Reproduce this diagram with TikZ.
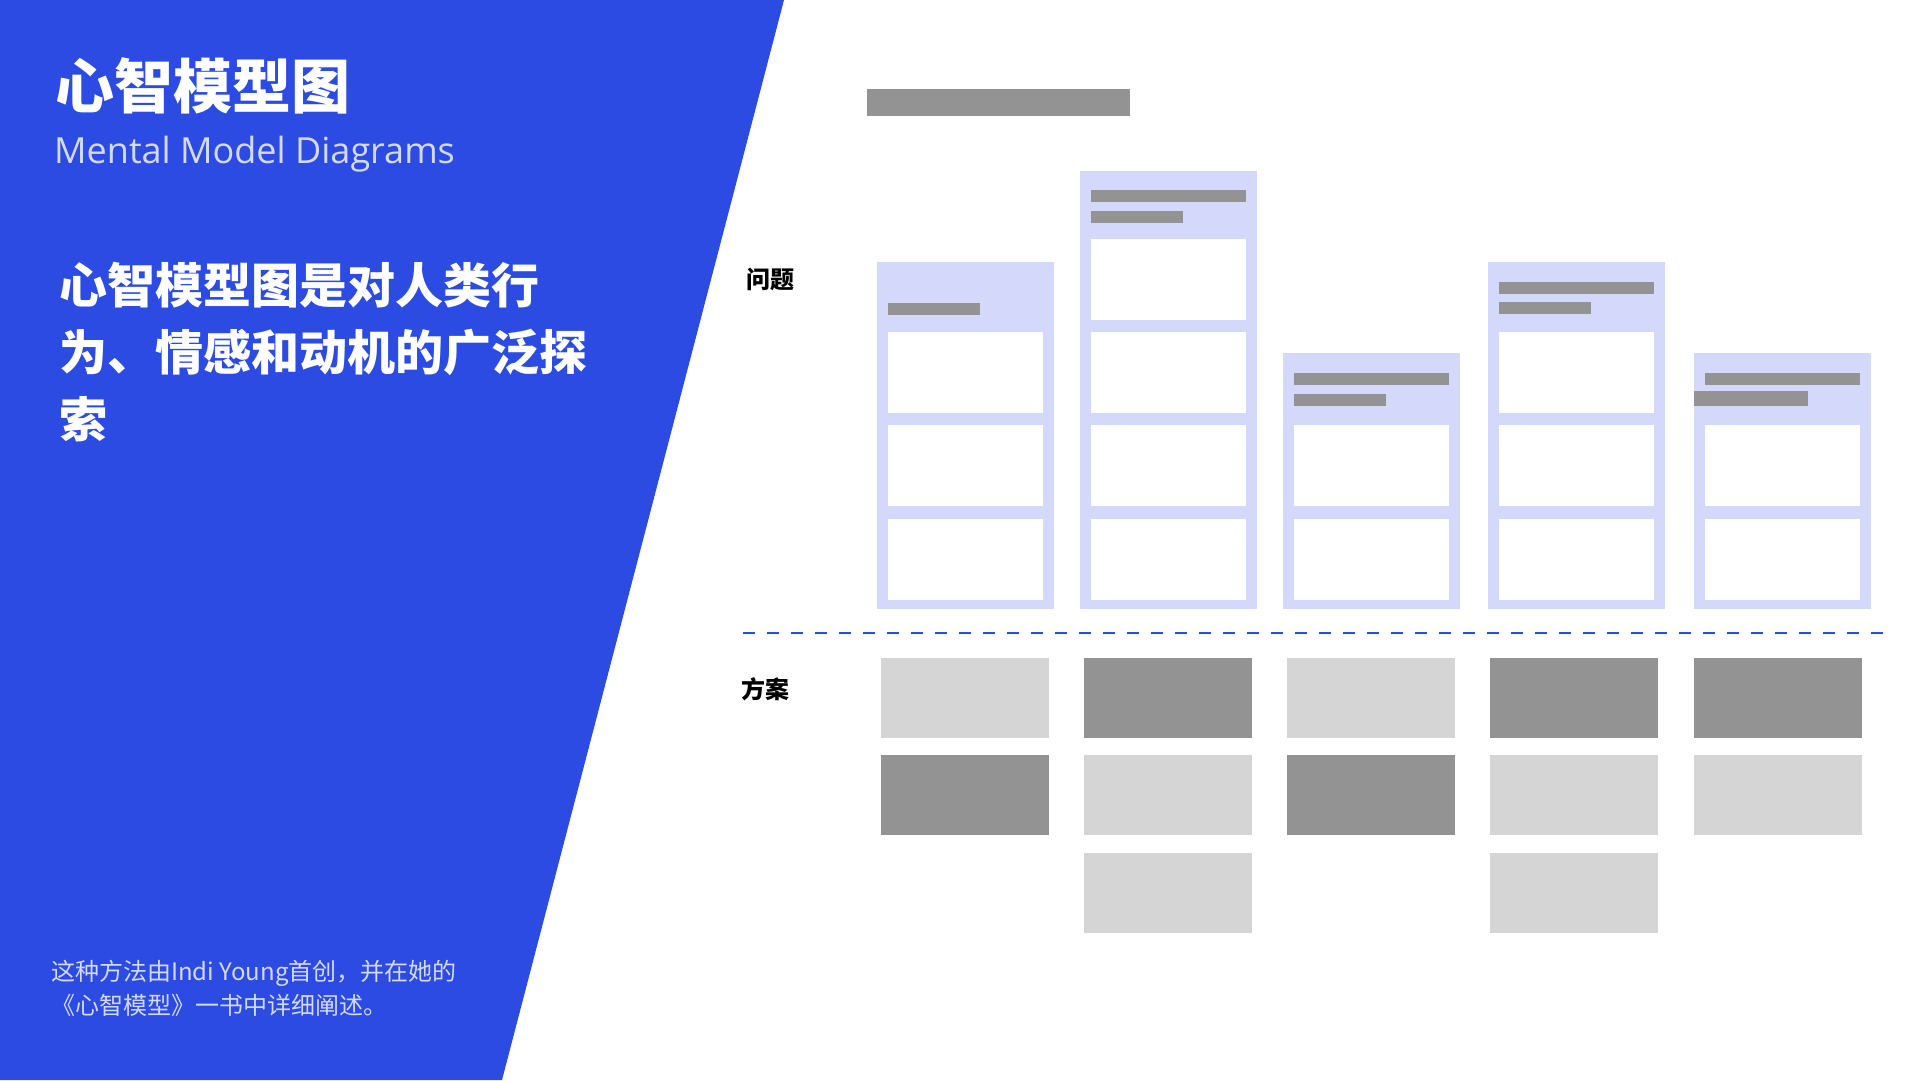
\documentclass[tikz,border=0pt]{standalone}
\usepackage{fontspec}
\setmainfont{Noto Sans CJK SC}
\newfontfamily\latinfont{Open Sans}
\usepackage{tikz}
\usetikzlibrary{positioning}
\definecolor{mmblue}{HTML}{2B4BE3}
\definecolor{mmpale}{HTML}{D4D9FF}
\definecolor{mmlav}{HTML}{D4D9FB}
\definecolor{mmdark}{HTML}{939393}
\definecolor{mmlight}{HTML}{D6D5D6}

\begin{document}
\begin{tikzpicture}[x=1pt, y=-1pt,
  colbox/.style={fill=mmlav, minimum width=177pt, anchor=north west, inner sep=0pt},
  cell/.style={fill=white, minimum width=155pt, minimum height=81pt, anchor=north west, inner sep=0pt},
  bar/.style={fill=mmdark, minimum height=12pt, anchor=north west, inner sep=0pt},
  sol/.style={minimum width=168pt, minimum height=80pt, anchor=north west, inner sep=0pt},
  soldark/.style={sol, fill=mmdark},
  sollight/.style={sol, fill=mmlight},
]
\useasboundingbox (0,0) rectangle (1920,1080);
\fill[white] (0,0) rectangle (1920,1080);
\fill[mmblue] (0,0) -- (784,0) -- (502,1080) -- (0,1080) -- cycle;

% left panel
\node[anchor=west, inner sep=0pt, text=white, font=\bfseries\fontsize{59}{70}\selectfont] (title) at (55,86) {心智模型图};
\node[anchor=base west, inner sep=0pt, text=mmpale, font=\latinfont\fontsize{36}{44}\selectfont] (subtitle) at (54,163) {Mental Model Diagrams};
\node[anchor=north west, inner sep=0pt, align=left, text=white, font=\bfseries\fontsize{48}{67}\selectfont] (summary) at (59,262) {
  心智模型图是对人类行\\
  为、情感和动机的广泛探\\
  索
};
\node[anchor=north west, inner sep=0pt, align=left, text=mmpale, font=\fontsize{24}{34}\selectfont] (credit) at (51,960) {
  这种方法由Indi Young首创，并在她的\\
  《心智模型》一书中详细阐述。
};

% problem space
\node[anchor=west, inner sep=0pt, font=\bfseries\fontsize{24}{28}\selectfont] (problems) at (746,279) {问题};
\node[anchor=north west, inner sep=0pt, fill=mmdark, minimum width=263pt, minimum height=27pt] (heading) at (867,89) {};

\node[colbox, minimum height=347pt] (towerA) at (877,262) {};
\node[bar, minimum width=92pt] (towerAbar) at (888,303) {};
\node[cell] (towerAone) at (888,332) {};
\node[cell] (towerAtwo) at (888,425) {};
\node[cell] (towerAthree) at (888,519) {};

\node[colbox, minimum height=438pt] (towerB) at (1080,171) {};
\node[bar, minimum width=155pt] (towerBbar) at (1091,190) {};
\node[bar, minimum width=92pt] (towerBsub) at (1091,211) {};
\node[cell] (towerBone) at (1091,239) {};
\node[cell] (towerBtwo) at (1091,332) {};
\node[cell] (towerBthree) at (1091,425) {};
\node[cell] (towerBfour) at (1091,519) {};

\node[colbox, minimum height=256pt] (towerC) at (1283,353) {};
\node[bar, minimum width=155pt] (towerCbar) at (1294,373) {};
\node[bar, minimum width=92pt] (towerCsub) at (1294,394) {};
\node[cell] (towerCone) at (1294,425) {};
\node[cell] (towerCtwo) at (1294,519) {};

\node[colbox, minimum height=347pt] (towerD) at (1488,262) {};
\node[bar, minimum width=155pt] (towerDbar) at (1499,282) {};
\node[bar, minimum width=92pt] (towerDsub) at (1499,302) {};
\node[cell] (towerDone) at (1499,332) {};
\node[cell] (towerDtwo) at (1499,425) {};
\node[cell] (towerDthree) at (1499,519) {};

\node[colbox, minimum height=256pt] (towerE) at (1694,353) {};
\node[bar, minimum width=155pt] (towerEbar) at (1705,373) {};
\node[bar, minimum width=114pt, minimum height=15pt] (towerEsub) at (1694,391) {};
\node[cell] (towerEone) at (1705,425) {};
\node[cell] (towerEtwo) at (1705,519) {};

% divider
\coordinate (lineL) at (743,633);
\coordinate (lineR) at (1885,633);
\draw[mmblue, line width=2pt, dash pattern=on 12pt off 12pt] (lineL) -- (lineR);

% solution space
\node[anchor=west, inner sep=0pt, font=\bfseries\fontsize{24}{28}\selectfont] (solutions) at (741,689) {方案};

\node[sollight] (solAone) at (881,658) {};
\node[soldark] (solAtwo) at (881,755) {};
\node[soldark] (solBone) at (1084,658) {};
\node[sollight] (solBtwo) at (1084,755) {};
\node[sollight] (solBthree) at (1084,853) {};
\node[sollight] (solCone) at (1287,658) {};
\node[soldark] (solCtwo) at (1287,755) {};
\node[soldark] (solDone) at (1490,658) {};
\node[sollight] (solDtwo) at (1490,755) {};
\node[sollight] (solDthree) at (1490,853) {};
\node[soldark] (solEone) at (1694,658) {};
\node[sollight] (solEtwo) at (1694,755) {};
\end{tikzpicture}
\end{document}
